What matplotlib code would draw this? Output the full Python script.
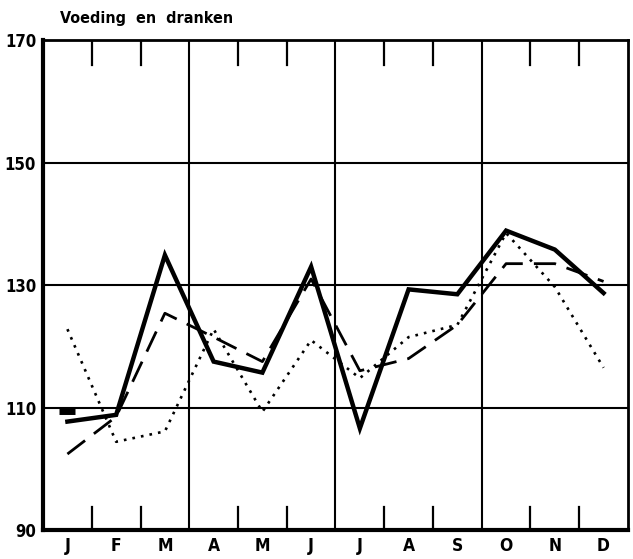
import matplotlib
matplotlib.use("Agg")
import matplotlib.pyplot as plt
import numpy as np

months = ["J", "F", "M", "A", "M", "J", "J", "A", "S", "O", "N", "D"]
solid = [107.7, 108.8, 134.9, 117.5, 115.7, 133.0, 106.6, 129.3, 128.5, 138.9, 135.8, 128.7]
dashed = [102.4, 108.5, 125.4, 121.5, 117.5, 131.0, 116.0, 118.0, 123.5, 133.5, 133.5, 130.6]
dotted = [122.8, 104.4, 106.1, 122.8, 109.3, 121.0, 114.8, 121.5, 123.5, 138.5, 129.7, 116.5]
extra_jan = [109.5]
yticks = [90, 110, 130, 150, 170]
title = "Voeding  en  dranken"

fam = ["DejaVu Sans"]
fkw = dict(family=fam, fontweight="bold", fontstretch="condensed")

fig = plt.figure(figsize=(6.33, 5.59), dpi=100)
ax = fig.add_axes([0.068, 0.052, 0.924, 0.876])
x = np.arange(12) + 0.5

ax.plot(x, solid, color="black", lw=3.2, solid_joinstyle="miter", zorder=4)
ax.plot(x, dashed, color="black", lw=2.0, linestyle=(0, (8, 4)), zorder=3)
ax.plot(x, dotted, color="black", lw=1.9, linestyle=(0, (1, 2.3)), zorder=3)
ax.plot(x[:1], extra_jan, marker="_", color="black", markersize=11, mew=5, ls="none", zorder=5)

ax.set_xlim(0, 12)
ax.set_ylim(90, 170)

for g in [3, 6, 9]:
    ax.axvline(g, color="black", lw=1.5, zorder=1)
for yv in [110, 130, 150]:
    ax.axhline(yv, color="black", lw=1.5, zorder=1)
for t in range(1, 12):
    if t % 3:
        ax.plot([t, t], [90, 93.8], color="black", lw=1.6, zorder=1)
        ax.plot([t, t], [170, 166], color="black", lw=1.6, zorder=1)

ax.set_xticks(x)
ax.set_xticklabels(months, fontsize=12.5, **fkw)
ax.set_yticks(yticks)
ax.set_yticklabels([str(v) for v in yticks], fontsize=12, **fkw)
ax.tick_params(length=0, pad=5)
for s in ["left", "bottom"]:
    ax.spines[s].set_linewidth(3)
for s in ["top", "right"]:
    ax.spines[s].set_linewidth(2)

fig.text(0.095, 0.967, title, fontsize=11.5, ha="left", va="center", **fkw)

fig.savefig("out.png", dpi=100)
